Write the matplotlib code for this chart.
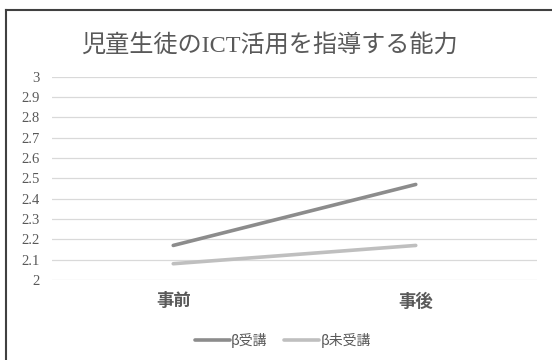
import matplotlib
matplotlib.use('Agg')
import matplotlib.pyplot as plt
from matplotlib.lines import Line2D

plt.rcParams['font.family'] = ['Liberation Serif', 'Noto Sans CJK JP', 'DejaVu Sans']

# --- data ---
categories = ['事前', '事後']
series_names = ['β受講', 'β未受講']
values_taken = [2.17, 2.47]
values_not_taken = [2.08, 2.17]
yticks = [2, 2.1, 2.2, 2.3, 2.4, 2.5, 2.6, 2.7, 2.8, 2.9, 3]
title = '児童生徒のICT活用を指導する能力'

text_color = '#595959'
colors = ['#8c8c8c', '#bfbfbf']

fig = plt.figure(figsize=(5.52, 3.6), dpi=100)
ax = fig.add_axes([52 / 552, 1 - 280 / 360, (537 - 52) / 552, (280 - 76.7) / 360])

x = list(range(len(categories)))
for vals, name, c in zip([values_taken, values_not_taken], series_names, colors):
    ax.plot(x, vals, color=c, lw=2.6, solid_capstyle='round', label=name, zorder=3)

ax.set_xlim(-0.5, len(categories) - 0.5)
ax.set_ylim(2, 3)
ax.set_yticks(yticks)
ax.set_yticklabels([f'{v:g}' for v in yticks], fontsize=10.5, color=text_color,
                   family='Liberation Serif')
ax.set_xticks(x)
ax.set_xticklabels(categories, fontsize=12.5, fontweight='bold', color=text_color,
                   family='Noto Sans CJK JP')
ax.tick_params(axis='both', length=0)
ax.tick_params(axis='y', pad=9)
ax.tick_params(axis='x', pad=9)
ax.grid(axis='y', color='#d9d9d9', lw=0.9)
ax.set_axisbelow(True)
for s in ax.spines.values():
    s.set_visible(False)

fig.text(269 / 552, 1 - 45 / 360, title, ha='center', va='center', fontsize=17.4,
         color=text_color)

leg = fig.legend(loc='center', bbox_to_anchor=(283 / 552, 1 - 340 / 360), ncol=2,
                 frameon=False, handlelength=2.5, handletextpad=0.1,
                 columnspacing=1.2, prop={'family': 'Noto Sans CJK JP', 'size': 10})
for t in leg.get_texts():
    t.set_color(text_color)

# chart frame (top and left edges visible)
fig.add_artist(Line2D([6 / 552, 1], [1 - 10 / 360] * 2, transform=fig.transFigure,
                      color='#404040', lw=1.5))
fig.add_artist(Line2D([6 / 552] * 2, [0, 1 - 10 / 360], transform=fig.transFigure,
                      color='#404040', lw=1.5))

fig.savefig('out.png', dpi=100)
